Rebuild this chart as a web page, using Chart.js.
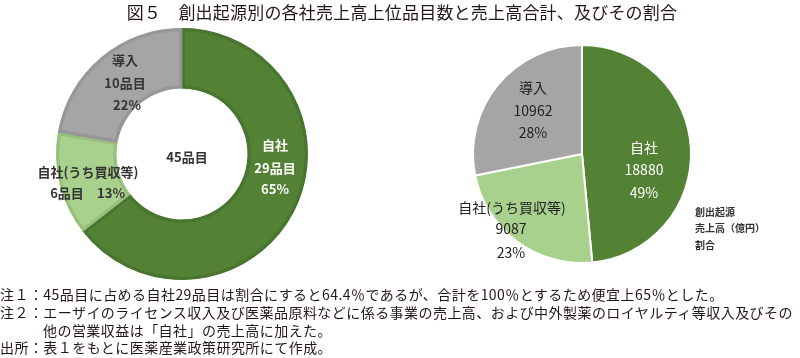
<!DOCTYPE html>
<html lang="ja">
<head>
<meta charset="utf-8">
<script src="https://cdn.jsdelivr.net/npm/chart.js@4.4.0/dist/chart.umd.min.js"></script>
<style>
  html, body { margin: 0; padding: 0; background: #fff; }
  body { width: 800px; height: 358px; position: relative; overflow: hidden; font-family: "Noto Sans CJK JP", sans-serif; color: #231815; }
  canvas { position: absolute; left: 0; top: 0; }
  .title { position: absolute; left: 0; width: 804px; top: 1px; text-align: center; font-size: 17px; line-height: 22px; letter-spacing: 0.2px; white-space: nowrap; }
  .note { position: absolute; font-size: 14px; line-height: 17px; letter-spacing: 0.45px; white-space: nowrap; }
</style>
</head>
<body>
<canvas id="donut" width="800" height="358"></canvas>
<canvas id="pie" width="800" height="358"></canvas>
<div class="title">図５　創出起源別の各社売上高上位品目数と売上高合計、及びその割合</div>
<div class="note" style="left:0;top:286px">注１：45品目に占める自社29品目は割合にすると64.4％であるが、合計を100％とするため便宜上65％とした。</div>
<div class="note" style="left:0;top:304px">注２：エーザイのライセンス収入及び医薬品原料などに係る事業の売上高、および中外製薬のロイヤルティ等収入及びその</div>
<div class="note" style="left:43px;top:322px">他の営業収益は「自社」の売上高に加えた。</div>
<div class="note" style="left:0;top:339px">出所：表１をもとに医薬産業政策研究所にて作成。</div>
<script>
const categories = ['自社', '自社(うち買収等)', '導入']
const itemCounts = [29, 6, 10]
const itemPct = [65, 13, 22]
const itemTotal = '45品目'
const sales = [18880, 9087, 10962]
const salesPct = [49, 23, 28]
const salesNote = ['創出起源', '売上高（億円）', '割合']

const fills = ['#548235', '#a9d18e', '#a5a5a5']
const edges = ['#4a7530', '#98c07c', '#979797']

// text blocks: [lines, offsets from the chart centre, colour]
function donutLabels() {
  return [
    { lines: [categories[0], itemCounts[0] + '品目', itemPct[0] + '%'], pos: [[93, -9], [93, 14], [93, 35]], color: '#fff' },
    { lines: [categories[1], itemCounts[1] + '品目', itemPct[1] + '%'], pos: [[-94, 18], [-115, 39], [-71, 39]], color: '#333' },
    { lines: [categories[2], itemCounts[2] + '品目', itemPct[2] + '%'], pos: [[-57, -94], [-57, -71], [-55, -49]], color: '#333' },
    { lines: [itemTotal], pos: [[5, 3]], color: '#333' }
  ]
}

function pieLabels() {
  return [
    { lines: [categories[0], String(sales[0]), salesPct[0] + '%'], pos: [[62, -6], [62, 16], [62, 39]], color: '#fff' },
    { lines: [categories[1], String(sales[1]), salesPct[1] + '%'], pos: [[-70, 54], [-71, 75], [-71, 99]], color: '#222' },
    { lines: [categories[2], String(sales[2]), salesPct[2] + '%'], pos: [[-49, -66], [-49, -43], [-49, -21]], color: '#222' }
  ]
}

const textPlugin = {
  id: 'textPlugin',
  afterDatasetsDraw(chart, args, opts) {
    const arc = chart.getDatasetMeta(0).data[0]
    if (!arc) return
    const ctx = chart.ctx
    ctx.save()
    ctx.textAlign = 'center'
    ctx.textBaseline = 'middle'
    ctx.font = opts.font
    opts.blocks().forEach(b => {
      ctx.fillStyle = b.color
      b.lines.forEach((t, i) => ctx.fillText(t, arc.x + b.pos[i][0], arc.y + b.pos[i][1]))
    })
    if (opts.note) {
      ctx.textAlign = 'left'
      ctx.font = 'bold 10px "Noto Sans CJK JP"'
      ctx.fillStyle = '#333'
      opts.note.forEach((t, i) => ctx.fillText(t, arc.x + 113, arc.y + 58 + i * 16.5))
    }
    ctx.restore()
  }
}

new Chart(document.getElementById('donut'), {
  type: 'doughnut',
  data: { labels: categories, datasets: [{ data: itemCounts, backgroundColor: fills, borderColor: edges, borderWidth: 3, borderAlign: 'inner' }] },
  options: {
    responsive: false, animation: false, cutout: '52%',
    layout: { padding: { left: 56, top: 28, right: 492, bottom: 78 } },
    plugins: { legend: { display: false }, tooltip: { enabled: false },
      textPlugin: { font: 'bold 13px "Noto Sans CJK JP"', blocks: donutLabels } }
  },
  plugins: [textPlugin]
})

new Chart(document.getElementById('pie'), {
  type: 'pie',
  data: { labels: categories, datasets: [{ data: sales, backgroundColor: fills, borderColor: '#fff', borderWidth: 2 }] },
  options: {
    responsive: false, animation: false,
    layout: { padding: { left: 472, top: 44, right: 108, bottom: 94 } },
    plugins: { legend: { display: false }, tooltip: { enabled: false },
      textPlugin: { font: '14px "Noto Sans CJK JP"', blocks: pieLabels, note: salesNote } }
  },
  plugins: [textPlugin]
})
</script>
</body>
</html>
